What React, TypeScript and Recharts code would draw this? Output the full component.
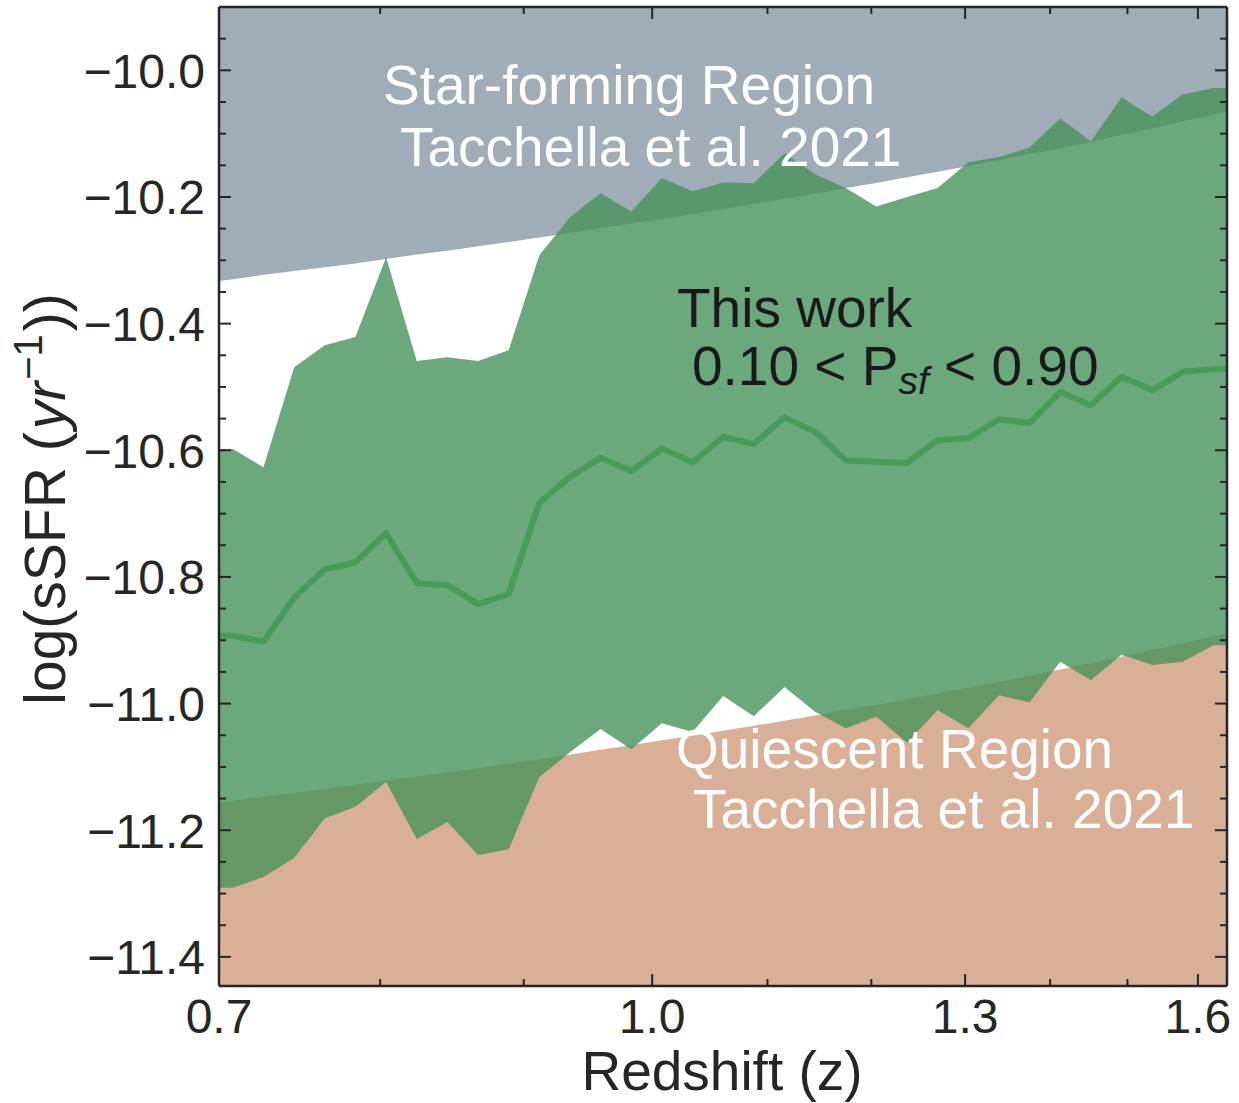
import { ComposedChart, Area, Line, XAxis, YAxis } from 'recharts';

const FONT = '"Liberation Sans", Arial, Helvetica, sans-serif';
const INK = '#262626';

// bin centres, evenly spaced in cosmic time (Gyr)
const ageGyr = [
  7.22, 7.12, 7.02, 6.92, 6.82, 6.72, 6.62, 6.52, 6.42, 6.32, 6.22, 6.12,
  6.02, 5.92, 5.82, 5.72, 5.62, 5.52, 5.42, 5.32, 5.22, 5.12, 5.02, 4.92,
  4.82, 4.72, 4.62, 4.52, 4.42, 4.32, 4.22, 4.12, 4.02, 3.92, 3.82,
];

// this work, 0.10 < P_sf < 0.90
const medianSSFR = [
  -10.893, -10.893, -10.902, -10.833, -10.788, -10.777, -10.731, -10.81, -10.813, -10.843, -10.827, -10.683,
  -10.642, -10.612, -10.633, -10.597, -10.619, -10.579, -10.59, -10.548, -10.571, -10.616, -10.618, -10.62,
  -10.584, -10.581, -10.551, -10.557, -10.508, -10.529, -10.484, -10.505, -10.476, -10.472, -10.47,
];
const upperSSFR = [
  -10.598, -10.598, -10.627, -10.469, -10.434, -10.421, -10.295, -10.459, -10.453, -10.459, -10.442, -10.292,
  -10.232, -10.194, -10.223, -10.17, -10.191, -10.177, -10.178, -10.131, -10.164, -10.186, -10.215, -10.2,
  -10.186, -10.145, -10.137, -10.122, -10.076, -10.112, -10.043, -10.073, -10.038, -10.028, -10.028,
];
const lowerSSFR = [
  -11.291, -11.291, -11.274, -11.244, -11.181, -11.163, -11.124, -11.214, -11.187, -11.239, -11.23, -11.116,
  -11.077, -11.04, -11.072, -11.031, -11.045, -10.988, -11.02, -10.974, -11.013, -11.039, -11.021, -11.062,
  -11.01, -11.039, -10.987, -10.998, -10.934, -10.963, -10.923, -10.939, -10.934, -10.908, -10.908,
];

// Tacchella et al. 2021 region limits
const sfLimit = [
  -10.336, -10.33, -10.323, -10.317, -10.311, -10.305, -10.298, -10.291, -10.285, -10.278, -10.271, -10.264,
  -10.257, -10.249, -10.242, -10.235, -10.227, -10.219, -10.211, -10.203, -10.195, -10.186, -10.178, -10.169,
  -10.16, -10.151, -10.142, -10.132, -10.123, -10.113, -10.102, -10.092, -10.081, -10.07, -10.059,
];
const qLimit = [
  -11.16, -11.154, -11.147, -11.141, -11.135, -11.128, -11.122, -11.115, -11.109, -11.102, -11.095, -11.088,
  -11.081, -11.073, -11.066, -11.058, -11.051, -11.043, -11.035, -11.027, -11.019, -11.01, -11.002, -10.993,
  -10.984, -10.975, -10.966, -10.956, -10.946, -10.936, -10.926, -10.915, -10.905, -10.894, -10.883,
];

const zTicks = [0.7, 0.8, 0.9, 1.0, 1.1, 1.2, 1.3, 1.4, 1.5, 1.6];
const zLabels = ['0.7', '1.0', '1.3', '1.6'];
const yLabels = [-11.4, -11.2, -11.0, -10.8, -10.6, -10.4, -10.2, -10.0];

// flat LCDM (H0=70, Om=0.3): redshift -> age of the universe, only used to place the z ticks
function ageAt(z: number) {
  const om = 0.3, ol = 0.7, tH = 977.8 / 70;
  return (2 / (3 * Math.sqrt(ol))) * tH * Math.asinh(Math.sqrt(ol / om) * Math.pow(1 + z, -1.5));
}

const data = ageGyr.map((age, i) => ({
  age,
  median: medianSSFR[i],
  band: [lowerSSFR[i], upperSSFR[i]],
  sf: sfLimit[i],
  q: qLimit[i],
}));

const xTicks = zTicks.map(ageAt);
const yTicks: number[] = [];
for (let v = -11.4; v < -9.94; v += 0.05) yTicks.push(Math.round(v * 100) / 100);

const zOf = (age: number) =>
  zTicks.reduce((best, z) => (Math.abs(ageAt(z) - age) < Math.abs(ageAt(best) - age) ? z : best), zTicks[0]);
const isMajorY = (v: number) => yLabels.some(l => Math.abs(l - v) < 1e-6);
const fmtY = (v: number) => (v < 0 ? '\u2212' : '') + Math.abs(v).toFixed(1);

const BottomTick = ({ x, y, payload }: any) => {
  const z = zOf(payload.value).toFixed(1);
  const major = zLabels.includes(z);
  return (
    <g>
      <line x1={x} x2={x} y1={y} y2={y - (major ? 12 : 7)} stroke={INK} strokeWidth={2} />
      {major && (
        <text x={x} y={y + 47} textAnchor="middle" fontSize={48} fontFamily={FONT} fill={INK}>{z}</text>
      )}
    </g>
  );
};

const TopTick = ({ x, y, payload }: any) => {
  const major = zLabels.includes(zOf(payload.value).toFixed(1));
  return <line x1={x} x2={x} y1={y} y2={y + (major ? 12 : 7)} stroke={INK} strokeWidth={2} />;
};

const LeftTick = ({ x, y, payload }: any) => {
  const major = isMajorY(payload.value);
  return (
    <g>
      <line x1={x} x2={x + (major ? 12 : 7)} y1={y} y2={y} stroke={INK} strokeWidth={2} />
      {major && (
        <text x={x - 14} y={y + 17.5} textAnchor="end" fontSize={48} fontFamily={FONT} fill={INK}>
          {fmtY(payload.value)}
        </text>
      )}
    </g>
  );
};

const RightTick = ({ x, y, payload }: any) => {
  const major = isMajorY(payload.value);
  return <line x1={x} x2={x - (major ? 12 : 7)} y1={y} y2={y} stroke={INK} strokeWidth={2} />;
};

const axisLine = { stroke: INK, strokeWidth: 2.5 };
const xDomain = [ageAt(1.644), ageAt(0.7)];
const yDomain = [-11.446, -9.9];

export default function App() {
  return (
    <div style={{ position: 'absolute', left: 0, top: 0, width: 1239, height: 1103, background: '#fff' }}>
      <ComposedChart width={1239} height={1103} data={data} margin={{ top: 6, right: 11, bottom: 116, left: 218 }}>
        <Area
          xAxisId="bottom" yAxisId="left" type="linear" dataKey="sf" baseValue="dataMax"
          stroke="none" fill="#A0ADB6" fillOpacity={1} isAnimationActive={false}
        />
        <Area
          xAxisId="bottom" yAxisId="left" type="linear" dataKey="q" baseValue="dataMin"
          stroke="none" fill="#D9AF97" fillOpacity={1} isAnimationActive={false}
        />
        <Area
          xAxisId="bottom" yAxisId="left" type="linear" dataKey="band"
          stroke="none" fill="#46925A" fillOpacity={0.8} isAnimationActive={false}
        />
        <Line
          xAxisId="bottom" yAxisId="left" type="linear" dataKey="median"
          stroke="#4A9A5A" strokeWidth={6} strokeLinejoin="round" dot={false} isAnimationActive={false}
        />
        <XAxis
          xAxisId="bottom" dataKey="age" type="number" reversed
          domain={xDomain} allowDataOverflow
          ticks={xTicks} interval={0} height={1} tickSize={0} tickMargin={0}
          tickLine={false} axisLine={axisLine} tick={(p: any) => <BottomTick {...p} />}
        />
        <XAxis
          xAxisId="top" orientation="top" dataKey="age" type="number" reversed
          domain={xDomain} allowDataOverflow
          ticks={xTicks} interval={0} height={1} tickSize={0} tickMargin={0}
          tickLine={false} axisLine={axisLine} tick={(p: any) => <TopTick {...p} />}
        />
        <YAxis
          yAxisId="left" type="number" domain={yDomain} allowDataOverflow
          ticks={yTicks} interval={0} width={1} tickSize={0} tickMargin={0}
          tickLine={false} axisLine={axisLine} tick={(p: any) => <LeftTick {...p} />}
        />
        <YAxis
          yAxisId="right" orientation="right" type="number" domain={yDomain} allowDataOverflow
          ticks={yTicks} interval={0} width={1} tickSize={0} tickMargin={0}
          tickLine={false} axisLine={axisLine} tick={(p: any) => <RightTick {...p} />}
        />
      </ComposedChart>
      <svg
        width={1239} height={1103}
        style={{ position: 'absolute', left: 0, top: 0, pointerEvents: 'none', whiteSpace: 'pre' }}
        fontFamily={FONT}
      >
        <g fontSize={55} fill="#ffffff">
          <text x={383} y={104}>Star-forming Region</text>
          <text x={400} y={166}>Tacchella et al. 2021</text>
          <text x={676} y={768}>Quiescent Region</text>
          <text x={693} y={828}>Tacchella et al. 2021</text>
        </g>
        <g fontSize={55} fill="#1a1a1a">
          <text x={677} y={327}>This work</text>
          <text x={692} y={385}>
            <tspan>0.10 &lt; P</tspan>
            <tspan fontStyle="italic" fontSize={39} dy={9}>sf</tspan>
            <tspan dy={-9}> &lt; 0.90</tspan>
          </text>
        </g>
        <text x={722} y={1090} textAnchor="middle" fontSize={55} fill={INK}>Redshift (z)</text>
        <text transform="translate(65,499) rotate(-90)" textAnchor="middle" fontSize={57} fill={INK}>
          <tspan>log(sSFR (</tspan>
          <tspan fontStyle="italic" dx={3}>yr</tspan>
          <tspan fontSize={40} dy={-23} dx={2}>{'\u22121'}</tspan>
          <tspan dy={23} dx={3}>))</tspan>
        </text>
      </svg>
    </div>
  );
}
